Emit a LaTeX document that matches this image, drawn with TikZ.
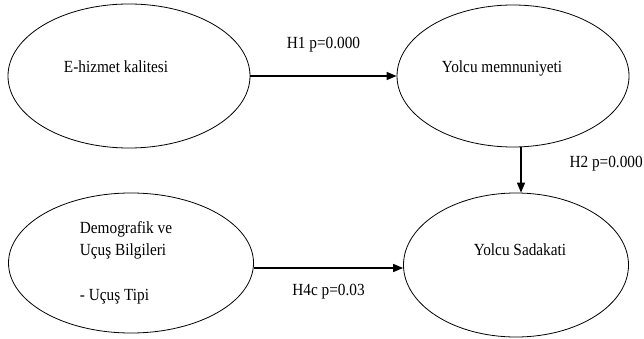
\documentclass[tikz,border=0pt]{standalone}
\usepackage{fontspec}
\setmainfont[FakeStretch=0.9]{Liberation Serif}
\usepackage{tikz}
\usetikzlibrary{arrows.meta,shapes.geometric}

\begin{document}
\begin{tikzpicture}[x=1pt,y=-1pt,
    font=\fontsize{17}{21}\selectfont,
    construct/.style={ellipse,draw,line width=0.8pt,inner sep=0pt},
    hyp/.style={line width=1.4pt,-{Triangle[length=10pt,width=8pt]}}]
  \useasboundingbox (0,0) rectangle (644,339);
  % constructs
  \node[construct,minimum width=242,minimum height=144,
        label={[xshift=-13pt,yshift=9pt]center:E-hizmet kalitesi}] (ehizmet) at (129,76) {};
  \node[construct,minimum width=232,minimum height=142,
        label={[xshift=-11pt,yshift=8pt]center:Yolcu memnuniyeti}] (memnun) at (513,76) {};
  \node[construct,minimum width=245,minimum height=140,
        label={[xshift=-5pt,yshift=0pt,align=left]center:Demografik ve\\[1pt]Uçuş Bilgileri\\[24pt]- Uçuş Tipi}] (demog) at (131,263) {};
  \node[construct,minimum width=225,minimum height=144,
        label={[xshift=4pt,yshift=15pt]center:Yolcu Sadakati}] (sadakat) at (516,265) {};
  % hypotheses
  \draw[hyp] (ehizmet.east) -- (memnun.west) node[midway,above=20pt] (h1) {H1 p=0.000};
  \draw[hyp] ([xshift=8pt]memnun.south) -- ([xshift=5pt]sadakat.north);
  \node[anchor=west] (h2) at (566,164) {H2 p=0.000};
  \draw[hyp] ([yshift=-5pt]demog.east) -- ([yshift=-5pt]demog.east -| sadakat.west)
    node[midway,below=12pt] (h4c) {H4c p=0.03};
\end{tikzpicture}
\end{document}
